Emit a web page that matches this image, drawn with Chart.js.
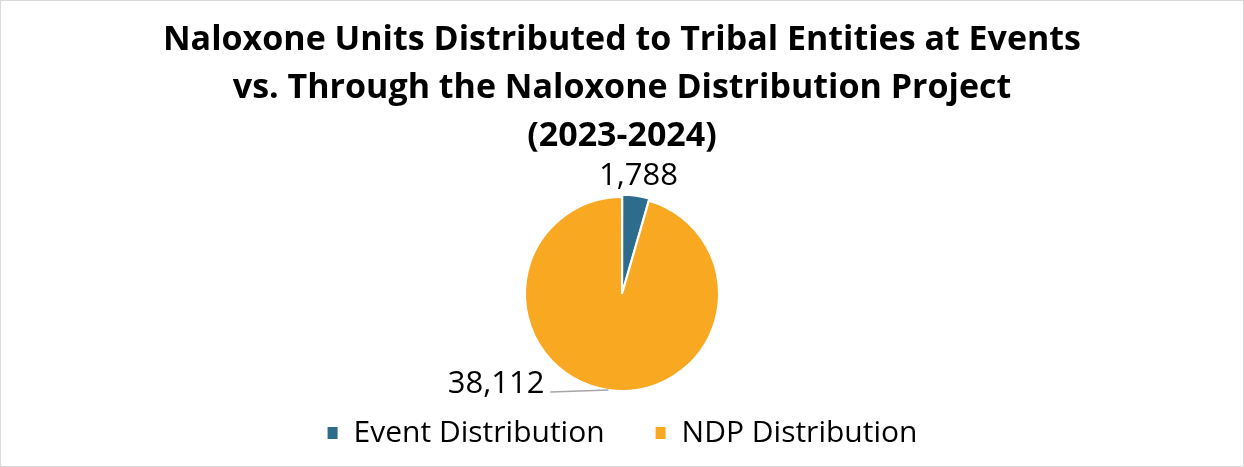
<!DOCTYPE html>
<html>
<head>
<meta charset="utf-8">
<script src="https://cdn.jsdelivr.net/npm/chart.js@4"></script>
<style>
  html, body { margin: 0; padding: 0; background: #fff; }
  #wrap { width: 1244px; height: 467px; box-sizing: border-box; border: 1px solid #d9d9d9; position: relative; }
</style>
</head>
<body>
<div id="wrap"><canvas id="pie"></canvas></div>
<script>
const titleLines = [
  "Naloxone Units Distributed to Tribal Entities at Events",
  "vs. Through the Naloxone Distribution Project",
  "(2023-2024)"
];
const categories = ["Event Distribution", "NDP Distribution"];
const values = [1788, 38112];
const colors = ["#2D6C8C", "#F9A822"];

const FONT = "'Open Sans', 'Noto Sans', sans-serif";

// draws the value labels, the bottom one gets a leader line
const sliceLabels = {
  id: "sliceLabels",
  afterDatasetsDraw(chart) {
    const ctx = chart.ctx;
    const meta = chart.getDatasetMeta(0);
    ctx.save();
    ctx.font = "31px " + FONT;
    ctx.fillStyle = "#000";
    meta.data.forEach((arc, i) => {
      const mid = (arc.startAngle + arc.endAngle) / 2;
      const r = arc.outerRadius;
      const text = values[i].toLocaleString("en-US");
      if (i === 0) {
        const d = r + 20;
        ctx.textAlign = "center";
        ctx.textBaseline = "middle";
        ctx.fillText(text, arc.x + Math.cos(mid) * d, arc.y + Math.sin(mid) * d - 2);
      } else {
        const ex = arc.x + Math.cos(mid) * r;
        const ey = arc.y + Math.sin(mid) * r;
        const lx = ex - 58;
        const ly = ey + 2;
        ctx.strokeStyle = "#a6a6a6";
        ctx.lineWidth = 1.5;
        ctx.beginPath();
        ctx.moveTo(ex, ey);
        ctx.lineTo(lx, ly);
        ctx.stroke();
        ctx.textAlign = "right";
        ctx.textBaseline = "middle";
        ctx.fillText(text, lx - 6, ly - 8);
      }
    });
    ctx.restore();
  }
};

new Chart(document.getElementById("pie"), {
  type: "pie",
  data: {
    labels: categories,
    datasets: [{
      data: values,
      backgroundColor: colors,
      borderColor: "#ffffff",
      borderWidth: 2,
      offset: [5, 0],
      radius: 97
    }]
  },
  options: {
    responsive: true,
    maintainAspectRatio: false,
    animation: false,
    layout: { padding: { top: 0, bottom: 8, left: 0, right: 0 } },
    plugins: {
      title: {
        display: true,
        text: titleLines,
        color: "#000",
        font: { family: FONT, size: 34, weight: "bold", lineHeight: 1.41 },
        padding: { top: 15, bottom: 60 }
      },
      legend: {
        position: "bottom",
        labels: {
          color: "#000",
          font: { family: FONT, size: 30 },
          boxWidth: 12,
          boxHeight: 14,
          padding: 50
        }
      },
      tooltip: { enabled: false }
    }
  },
  plugins: [sliceLabels]
});
</script>
</body>
</html>
